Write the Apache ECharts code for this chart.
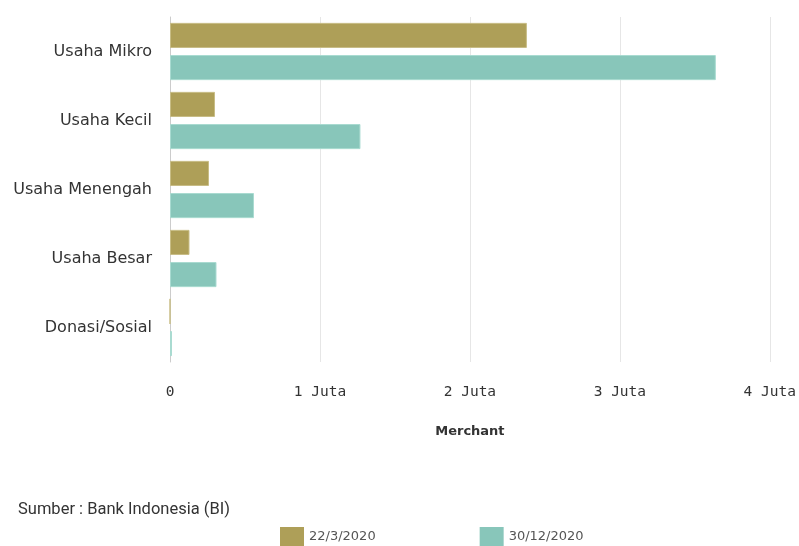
<!DOCTYPE html>
<html>
<head>
<meta charset="utf-8">
<script src="https://cdn.jsdelivr.net/npm/echarts@6/dist/echarts.min.js"></script>
<style>html,body{margin:0;padding:0;background:#fff}#c{width:799px;height:546px}</style>
</head>
<body>
<div id="c"></div>
<script>
const categories = ['Usaha Mikro', 'Usaha Kecil', 'Usaha Menengah', 'Usaha Besar', 'Donasi/Sosial'];
const seriesNames = ['22/3/2020', '30/12/2020'];
const valuesMar = [2.38, 0.30, 0.26, 0.13, 0];
const valuesDec = [3.64, 1.27, 0.56, 0.31, 0.013];
const xTicks = [0, 1, 2, 3, 4];
const sourceText = 'Sumber : Bank Indonesia (BI)';
const axisName = 'Merchant';

const chart = echarts.init(document.getElementById('c'));
const font = 'DejaVu Sans, Verdana, sans-serif';
chart.setOption({
  animation: false,
  grid: {left: 170, right: 29, top: 17, bottom: 184, containLabel: false},
  legend: {
    data: seriesNames,
    left: 275, top: 522,
    itemWidth: 24, itemHeight: 19, itemGap: 104,
    icon: 'rect',
    itemStyle: {borderWidth: 0},
    textStyle: {fontFamily: font, fontSize: 13, color: '#555'}
  },
  xAxis: {
    type: 'value', min: xTicks[0], max: xTicks[xTicks.length - 1], interval: 1,
    name: axisName, nameLocation: 'middle', nameGap: 63,
    nameTextStyle: {fontFamily: font, fontSize: 13, fontWeight: 'bold', color: '#333'},
    axisLine: {show: false}, axisTick: {show: false},
    axisLabel: {fontFamily: 'DejaVu Sans Mono, monospace', fontSize: 14.5, color: '#333', margin: 23,
      formatter: v => v === 0 ? '0' : v + ' Juta'},
    splitLine: {lineStyle: {color: '#e6e6e6'}}
  },
  yAxis: {
    type: 'category', data: categories, inverse: true,
    axisLine: {lineStyle: {color: '#ccc'}},
    axisTick: {alignWithLabel: true, length: 8, lineStyle: {color: '#ccc'}},
    axisLabel: {fontFamily: font, fontSize: 16, color: '#333', margin: 18}
  },
  series: [
    {name: seriesNames[0], type: 'bar', data: valuesMar, barGap: '28%', barCategoryGap: '17%',
      itemStyle: {color: '#ae9f58', borderColor: '#c8bd86', borderWidth: 1}},
    {name: seriesNames[1], type: 'bar', data: valuesDec,
      itemStyle: {color: '#88c6ba', borderColor: '#a9dbd1', borderWidth: 1}}
  ],
  graphic: [{
    type: 'text', left: 18, top: 501,
    style: {text: sourceText, fontFamily: 'Liberation Sans Narrow, Roboto, sans-serif', fontSize: 16.5, fill: '#333'}
  }]
});
</script>
</body>
</html>
